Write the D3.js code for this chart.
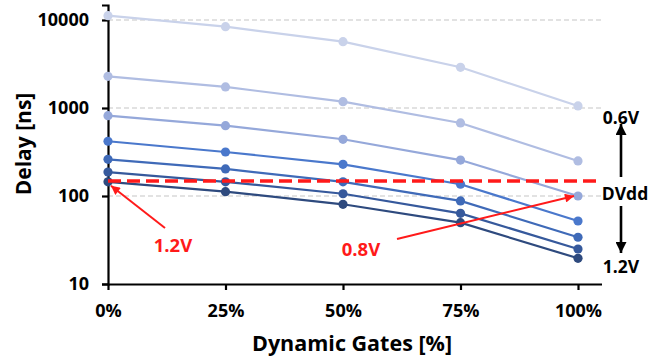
<!DOCTYPE html>
<html>
<head>
<meta charset="utf-8">
<script src="https://cdn.jsdelivr.net/npm/d3@7"></script>
<style>
  html, body { margin: 0; padding: 0; background: #fff; }
  text { font-family: "Open Sans", sans-serif; font-weight: bold; }
</style>
</head>
<body>
<svg id="chart" width="661" height="360"></svg>
<script>
// Share of dynamic gates (%) on the x axis
const gates = [0, 25, 50, 75, 100];
const xTickLabels = ["0%", "25%", "50%", "75%", "100%"];
const yTicks = [10, 100, 1000, 10000];

// Delay (ns) per supply voltage, from 0.6V (top) to 1.2V (bottom)
const voltages = ["0.6V", "0.7V", "0.8V", "0.9V", "1.0V", "1.1V", "1.2V"];
const delay06 = [11200, 8400, 5670, 2900, 1055];
const delay07 = [2290, 1735, 1180, 676, 250];
const delay08 = [818, 630, 441, 256, 100];
const delay09 = [419, 316, 229, 136, 52];
const delay10 = [261, 203, 145, 88, 34];
const delay11 = [187, 145, 106, 63.5, 25];
const delay12 = [145, 112, 80.5, 49.8, 19.6];
const series = [delay06, delay07, delay08, delay09, delay10, delay11, delay12];
const colors = ["#c9d2ea", "#b0bde2", "#95a8da", "#4a78cc", "#3f6ab8", "#36599c", "#2e4a7e"];

// Delay of the static design at 1.2V (reference line)
const staticDelay = 148;

const FONT = "'Open Sans', sans-serif";
const svg = d3.select("#chart");

const x = d3.scaleLinear().domain([0, 105]).range([108, 601.5]);
const y = d3.scaleLog().domain([10, 14800]).range([284, 5]);

const defs = svg.append("defs");
function marker(id, color, w, h) {
  defs.append("marker")
    .attr("id", id)
    .attr("viewBox", "0 0 10 10")
    .attr("refX", 10).attr("refY", 5)
    .attr("markerWidth", w).attr("markerHeight", h)
    .attr("markerUnits", "userSpaceOnUse")
    .attr("orient", "auto")
    .append("path")
    .attr("d", "M0,0 L10,5 L0,10 Z")
    .attr("fill", color);
}
marker("arrRed", "#ff1a1a", 11, 9);
marker("arrBlack", "#000", 12, 11);

// dashed gridlines
svg.append("g")
  .selectAll("line")
  .data([100, 1000, 10000])
  .join("line")
  .attr("x1", x(0)).attr("x2", x(105))
  .attr("y1", d => y(d)).attr("y2", d => y(d))
  .attr("stroke", "#d9d9d9")
  .attr("stroke-width", 1.6)
  .attr("stroke-dasharray", "5,3");

// axes
const yAxis = d3.axisLeft(y)
  .tickValues(yTicks)
  .tickFormat(d3.format("d"))
  .tickSize(6)
  .tickPadding(13);
const gy = svg.append("g").attr("transform", `translate(${x(0)},0)`).call(yAxis);
gy.select(".domain").attr("stroke", "#000").attr("stroke-width", 2.2);
gy.selectAll(".tick line").attr("stroke", "#000").attr("stroke-width", 2.2);
gy.selectAll(".tick text").attr("font-size", 18).attr("fill", "#000")
  .attr("font-family", FONT).attr("font-weight", "bold");

const xAxis = d3.axisBottom(x)
  .tickValues(gates)
  .tickFormat((d, i) => xTickLabels[i])
  .tickSize(6)
  .tickPadding(14)
  .tickSizeOuter(0);
const gx = svg.append("g").attr("transform", `translate(0,${y(10)})`).call(xAxis);
gx.select(".domain").attr("stroke", "#000").attr("stroke-width", 2.2);
gx.selectAll(".tick line").attr("stroke", "#000").attr("stroke-width", 2.2);
gx.selectAll(".tick text").attr("font-size", 18).attr("fill", "#000")
  .attr("font-family", FONT).attr("font-weight", "bold");

// series lines and markers
const line = d3.line().x((d, i) => x(gates[i])).y(d => y(d));
const gS = svg.append("g");
series.forEach((vals, k) => {
  gS.append("path")
    .datum(vals)
    .attr("d", line)
    .attr("fill", "none")
    .attr("stroke", colors[k])
    .attr("stroke-width", 2.2);
  gS.selectAll(null)
    .data(vals)
    .join("circle")
    .attr("cx", (d, i) => x(gates[i]))
    .attr("cy", d => y(d))
    .attr("r", 4.6)
    .attr("fill", colors[k]);
});

// static-design reference line
svg.append("line")
  .attr("x1", x(0)).attr("x2", x(105))
  .attr("y1", y(staticDelay)).attr("y2", y(staticDelay))
  .attr("stroke", "#ff1a1a")
  .attr("stroke-width", 3.6)
  .attr("stroke-dasharray", "13,6");

// red call-outs
svg.append("line")
  .attr("x1", 165).attr("y1", 228)
  .attr("x2", x(gates[0]) + 3).attr("y2", y(delay12[0]) + 4)
  .attr("stroke", "#ff1a1a").attr("stroke-width", 2)
  .attr("marker-end", "url(#arrRed)");
svg.append("text").attr("x", 173).attr("y", 252)
  .attr("text-anchor", "middle").attr("font-size", 18.5).attr("fill", "#ff1a1a")
  .text("1.2V");

svg.append("line")
  .attr("x1", 397).attr("y1", 239)
  .attr("x2", x(gates[4]) - 4).attr("y2", y(delay08[4]))
  .attr("stroke", "#ff1a1a").attr("stroke-width", 2)
  .attr("marker-end", "url(#arrRed)");
svg.append("text").attr("x", 361).attr("y", 256)
  .attr("text-anchor", "middle").attr("font-size", 18.5).attr("fill", "#ff1a1a")
  .text("0.8V");

// supply-voltage direction labels
const rx = 621;
svg.append("text").attr("x", rx).attr("y", 124)
  .attr("text-anchor", "middle").attr("font-size", 17.5).attr("fill", "#000")
  .text("0.6V");
svg.append("line")
  .attr("x1", rx).attr("y1", 177).attr("x2", rx).attr("y2", 124)
  .attr("stroke", "#000").attr("stroke-width", 2.6)
  .attr("marker-end", "url(#arrBlack)");
svg.append("text").attr("x", 625).attr("y", 200)
  .attr("text-anchor", "middle").attr("font-size", 17.5).attr("fill", "#000")
  .text("DVdd");
svg.append("line")
  .attr("x1", rx).attr("y1", 206).attr("x2", rx).attr("y2", 253)
  .attr("stroke", "#000").attr("stroke-width", 2.6)
  .attr("marker-end", "url(#arrBlack)");
svg.append("text").attr("x", rx).attr("y", 273)
  .attr("text-anchor", "middle").attr("font-size", 17.5).attr("fill", "#000")
  .text("1.2V");

// axis titles
svg.append("text")
  .attr("x", 352).attr("y", 351)
  .attr("text-anchor", "middle").attr("font-size", 21.5).attr("fill", "#000")
  .text("Dynamic Gates [%]");
svg.append("text")
  .attr("transform", "translate(31,144) rotate(-90)")
  .attr("text-anchor", "middle").attr("font-size", 21).attr("fill", "#000")
  .text("Delay [ns]");
</script>
</body>
</html>
